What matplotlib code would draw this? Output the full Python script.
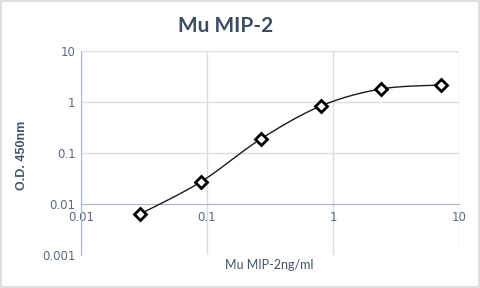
import numpy as np
import matplotlib
matplotlib.use("Agg")
import matplotlib.pyplot as plt
from matplotlib.patches import Rectangle

# concentration (ng/ml) and optical density
conc = [0.0296, 0.089, 0.267, 0.8, 2.4, 7.2]
od450 = [0.0064, 0.027, 0.188, 0.835, 1.8, 2.15]

x_ticks = [0.01, 0.1, 1, 10]
x_tick_labels = ["0.01", "0.1", "1", "10"]
y_ticks = [0.001, 0.01, 0.1, 1, 10]
y_tick_labels = ["0.001", "0.01", "0.1", "1", "10"]

TEXT = "#44546a"
TICK = "#5a6a80"
GRID = "#d9dce3"
AXIS = "#a9b6c8"


def smooth_log(xs, ys, n=30):
    # excel-like smoothed line (bezier through points, in log space)
    lx = np.log10(xs)
    ly = np.log10(ys)
    px, py = [], []
    m = len(lx)
    for i in range(m - 1):
        x0, y0 = lx[max(i - 1, 0)], ly[max(i - 1, 0)]
        x1, y1 = lx[i], ly[i]
        x2, y2 = lx[i + 1], ly[i + 1]
        x3, y3 = lx[min(i + 2, m - 1)], ly[min(i + 2, m - 1)]
        c1x, c1y = x1 + (x2 - x0) / 6, y1 + (y2 - y0) / 6
        c2x, c2y = x2 - (x3 - x1) / 6, y2 - (y3 - y1) / 6
        t = np.linspace(0, 1, n)
        bx = (1 - t) ** 3 * x1 + 3 * (1 - t) ** 2 * t * c1x + 3 * (1 - t) * t ** 2 * c2x + t ** 3 * x2
        by = (1 - t) ** 3 * y1 + 3 * (1 - t) ** 2 * t * c1y + 3 * (1 - t) * t ** 2 * c2y + t ** 3 * y2
        px.extend(bx)
        py.extend(by)
    return 10 ** np.array(px), 10 ** np.array(py)


fig = plt.figure(figsize=(4.8, 2.88), dpi=100)
fig.patches.append(Rectangle((0.002, 0.003), 0.996, 0.994, transform=fig.transFigure,
                             fill=False, edgecolor="#d9d9d9", linewidth=1.2))
ax = fig.add_axes([81 / 480, 33 / 288, 378 / 480, 204 / 288])
ax.set_xscale("log")
ax.set_yscale("log")
ax.set_xlim(0.01, 10)
ax.set_ylim(0.001, 10)

ax.set_xticks(x_ticks)
ax.set_xticklabels(x_tick_labels)
ax.set_yticks(y_ticks)
ax.set_yticklabels(y_tick_labels)
ax.minorticks_off()
ax.tick_params(length=0, labelsize=8.5, labelcolor=TICK, pad=4)
ax.tick_params(axis="x", pad=5)

for v in x_ticks:
    ax.axvline(v, color=GRID, linewidth=1, zorder=0)
for v in y_ticks[2:]:
    ax.axhline(v, color=GRID, linewidth=1, zorder=0)

for s in ["top", "right"]:
    ax.spines[s].set_visible(False)
ax.spines["bottom"].set_position(("data", 0.01))
ax.spines["bottom"].set_color(AXIS)
ax.spines["left"].set_color(AXIS)

sx, sy = smooth_log(conc, od450)
ax.plot(sx, sy, color="#1a1a1a", linewidth=1, zorder=3)
ax.plot(conc, od450, linestyle="none", marker="D", markersize=5.8,
        markerfacecolor="white", markeredgecolor="black", markeredgewidth=2, zorder=4)

fig.text(226 / 480, 1 - 26 / 288, "Mu MIP-2", ha="center", va="center",
         fontsize=15, fontweight="bold", color="#3d4c60", family="Lato")
fig.text(22 / 480, 1 - 155 / 288, "O.D. 450nm", ha="center", va="center", rotation=90,
         fontsize=9, fontweight="bold", color=TEXT, family="Liberation Sans")
fig.text(269 / 480, 1 - 265 / 288, "Mu MIP-2ng/ml", ha="center", va="center",
         fontsize=9, color=TEXT, family="Lato")

fig.savefig("out.png", dpi=100)
